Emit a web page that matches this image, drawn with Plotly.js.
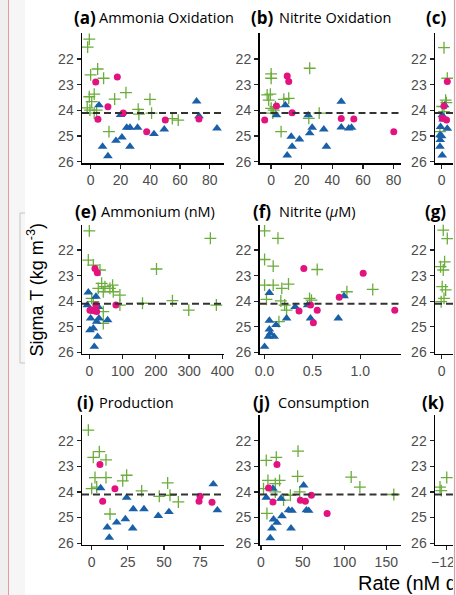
<!DOCTYPE html>
<html><head><meta charset="utf-8">
<script src="https://cdn.plot.ly/plotly-3.0.1.min.js"></script>
<style>
html,body{margin:0;padding:0;width:456px;height:595px;overflow:hidden;background:#efefef;}
#frame{position:absolute;left:8px;top:0;width:447px;height:595px;background:#f6f6f6;border-left:1.5px solid #e49aa0;border-right:1.5px solid #e49aa0;box-sizing:border-box;}
#white{position:absolute;left:25px;top:0;width:428px;height:595px;background:#fff;}
#clip{position:absolute;left:0;top:0;width:453px;height:595px;overflow:hidden;}
#plot{position:absolute;left:0;top:0;width:580px;height:595px;}
</style></head>
<body>
<div id="frame"></div><div id="white"></div>
<div id="clip"><div id="plot"></div></div>
<script>
// ---------- data ----------
const sigmaTicks = [22, 23, 24, 25, 26];
const refSigma = 24.1;

// (a) Ammonia Oxidation
const aGreenX = [-0.9, -2.0, 0, 4.7, 8.7, -0.9, 2.4, 0.7, -2.3, -0.5, 4.0, 2.4, 16.1, 23.7, 12.3, 31.9, 32.4, 39.8, 40.9, 54.8, 58.8];
const aGreenY = [21.23, 21.54, 22.62, 22.39, 22.75, 23.47, 23.37, 23.66, 23.9, 23.99, 23.99, 24.11, 23.56, 23.31, 24.83, 23.96, 24.15, 23.57, 24.11, 24.32, 24.38];
const aPinkX = [3.4, 17.9, 4.9, 11.6, 21.9, 37.6, 50.1, 72.7];
const aPinkY = [22.9, 22.7, 24.35, 23.86, 24.1, 24.83, 24.38, 24.34];
const aBlueX = [5.6, 20.1, 24.2, 26.4, 31.5, 8.0, 11.6, 17, 21, 26.4, 42.5, 49.4, 71.1, 72.7, 84.8];
const aBlueY = [23.8, 24.18, 24.67, 24.67, 24.67, 25.41, 25.78, 25.18, 25.05, 25.41, 24.92, 24.74, 23.65, 24.22, 24.7];
const aTicks = [0, 20, 40, 60, 80];

// (b) Nitrite Oxidation
const bGreenX = [0, 0, 25.2, -2.6, -0.5, -1.6, 0, 1.7, 2.8, 8.3, 11.5, 6.5, 24.6, 31.4, 1.1];
const bGreenY = [22.58, 22.75, 22.36, 23.4, 23.37, 23.6, 23.92, 23.99, 23.86, 23.57, 23.53, 24.83, 24.31, 24.11, 24.11];
const bPinkX = [10.5, 11.5, -4.2, 3.5, 13.7, 45.8, 54.0, 80.1];
const bPinkY = [22.66, 22.88, 24.38, 23.83, 24.09, 24.32, 24.34, 24.83];
const bBlueX = [3.5, 9.3, 24.2, 26.8, 25.2, 13.1, 13.7, 10.5, 18.5, 34.4, 36.1, 45.8, 45.8, 50.7, 52.5];
const bBlueY = [24.19, 23.8, 24.19, 24.67, 24.89, 25.02, 25.41, 25.75, 25.13, 24.74, 25.41, 23.66, 24.66, 24.7, 24.67];
const bTicks = [0, 20, 40, 60, 80];

// (c)
const cGreenX = [1.6, 3.8, 2.7, 0.4, -1.1, 1.6, 3.2];
const cGreenY = [21.56, 22.75, 23.6, 23.85, 24.83, 24.05, 23.7];
const cPinkX = [3.8, 1.6, 0.4, 3.3];
const cPinkY = [22.88, 23.83, 24.31, 24.38];
const cBlueX = [0.4, 2.0, -0.7, -1.1, -0.9, -1.1, 0.4, 3.8, 1.0, 0.0];
const cBlueY = [24.19, 23.8, 24.64, 24.96, 25.15, 25.41, 25.75, 24.71, 24.35, 25.0];
const cTicks = [0];

// (e) Ammonium (nM)
const eGreenX = [0, 364, -3, 12, 202, 32, 27, 37, 47, 62, 70, 72, 42, 92, 92, 7, 12, 42, 42, 160, 250, 299, 382, 22];
const eGreenY = [21.25, 21.54, 22.39, 22.59, 22.74, 22.78, 23.5, 23.3, 23.43, 23.5, 23.37, 23.63, 23.63, 23.76, 24.15, 23.89, 24.02, 24.41, 24.87, 24.08, 23.98, 24.35, 24.15, 24.28];
const ePinkX = [17, 24, 2, 7, 14, 22, 80, 20];
const ePinkY = [22.72, 22.89, 24.35, 24.35, 24.37, 24.4, 24.15, 24.15];
const eBlueX = [-3, -6, 20, 4, 29, 27, 2, 12, 25, 15, 55, 22];
const eBlueY = [23.65, 24.15, 23.82, 24.67, 24.67, 24.22, 25.13, 25.06, 25.39, 25.78, 24.74, 24.8];
const eTicks = [0, 100, 200, 300, 400];

// (f) Nitrite (uM)
const fGreenX = [0, 0.14, 0, 0.09, 0, 0.09, 0.18, 0.25, 0.55, 1.13, 0.86, 0.02, 0.17, 0.21, 0.23, 0.47, 0.49, 0.15];
const fGreenY = [21.25, 21.54, 22.37, 22.63, 23.37, 23.37, 23.5, 23.33, 22.76, 23.54, 23.63, 23.93, 23.99, 24.15, 24.35, 23.89, 23.96, 24.8];
const fPinkX = [0.41, 1.03, 0.78, 0.36, 0.55, 0.48, 0.51, 1.36];
const fPinkY = [22.72, 22.91, 23.85, 24.38, 24.35, 24.15, 24.84, 24.35];
const fBlueX = [0.05, 0.05, 0.05, 0.06, 0.1, 0.04, 0, 0.12, 0.23, 0.32, 0.45, 0.48, 0.77, 0.83];
const fBlueY = [23.67, 24.76, 25.1, 25.26, 25.39, 25.39, 25.78, 24.93, 24.67, 24.22, 24.15, 24.67, 24.67, 23.8];
const fTicks = [0, 0.5, 1.0];
const fTickText = ['0.0', '0.5', '1.0'];

// (g)
const gGreenX = [1.1, 3.8, -0.7, 2, 1.1, 0.4, 2.7, 1.6, -0.3];
const gGreenY = [21.22, 21.55, 22.65, 22.46, 22.78, 23.43, 23.56, 23.89, 24.02];
const gTicks = [0];

// (i) Production
const iGreenX = [-2.3, 1.1, 5.3, 9.9, 2.3, 9.9, 0, 3.5, 21.5, 24.2, 12.7, 34.6, 46.8, 52.6, 54.2, 60];
const iGreenY = [21.59, 22.65, 22.43, 22.75, 23.44, 23.44, 23.87, 23.81, 23.57, 23.35, 24.86, 23.96, 24.17, 23.65, 24.13, 24.39];
const iPinkX = [5.7, 16.1, 7.6, 75, 74.3, 83.3];
const iPinkY = [22.93, 23.88, 24.36, 24.17, 24.36, 24.4];
const iBlueX = [6.2, 24.2, 28.8, 36.2, 10.8, 12.2, 17.3, 23.3, 28.4, 46.1, 53.5, 84.2, 87];
const iBlueY = [23.85, 24.22, 24.67, 24.67, 25.38, 25.78, 25.19, 25.06, 25.42, 24.93, 24.78, 23.7, 24.71];
const iTicks = [0, 25, 50, 75];

// (j) Consumption
const jGreenX = [6.4, 18.4, 44.4, 8.4, 17.2, 22.3, 43.9, 108, 118.4, 159, 3.1, 7.2, 27.1, 35.2, 46.4, 17.2];
const jGreenY = [22.77, 22.65, 22.41, 23.55, 23.68, 23.55, 23.39, 23.42, 23.81, 24.1, 23.87, 24.84, 24.32, 24.13, 24.0, 24.0];
const jPinkX = [19.2, 9.1, 14.4, 47.2, 53.2, 60.4, 79.2];
const jPinkY = [22.93, 23.85, 24.39, 24.32, 24.36, 24.13, 24.84];
const jBlueX = [6.4, 14.4, 24, 15.1, 19.2, 13.2, 11.2, 25.2, 33.1, 37.2, 36, 51.1, 54.4, 57.1];
const jBlueY = [24.22, 23.87, 24.26, 25.07, 25.2, 25.42, 25.8, 24.94, 24.71, 24.73, 25.42, 23.74, 24.71, 24.73];
const jTicks = [0, 50, 100, 150];

// (k)
const kGreenX = [-128.6, -120, -127];
const kGreenY = [23.81, 23.44, 23.95];
const kTicks = [-120];

// ---------- layout ----------
const W = 580, H = 595;
const px = v => v / W;
const py = v => 1 - v / H;
const GREEN = '#6aad3b', PINK = '#e2137f', BLUE = '#1a60a8';
const TICKFONT = {family: 'Liberation Sans, Arial, sans-serif', size: 14, color: '#4d4d4d'};
const TITLEFONT = 'Open Sans, sans-serif';

const colX = [[82, 224], [259.5, 400.5], [435, 576]];
const rowY = [[33.3, 163], [224.5, 353.6], [415, 544.5]];

const panels = [
  {lab: '(a)', name: 'Ammonia Oxidation', col: 0, row: 0, xr: [-5.8, 89.5], xt: aTicks, g: [aGreenX, aGreenY], p: [aPinkX, aPinkY], b: [aBlueX, aBlueY], lx: 72, tx: 97, ty: 17},
  {lab: '(b)', name: 'Nitrite Oxidation', col: 1, row: 0, xr: [-7.6, 84.5], xt: bTicks, g: [bGreenX, bGreenY], p: [bPinkX, bPinkY], b: [bBlueX, bBlueY], lx: 249, tx: 277, ty: 17},
  {lab: '(c)', name: '', col: 2, row: 0, xr: [-4.4, 89.6], xt: cTicks, g: [cGreenX, cGreenY], p: [cPinkX, cPinkY], b: [cBlueX, cBlueY], lx: 424, tx: 450, ty: 17},
  {lab: '(e)', name: 'Ammonium (nM)', col: 0, row: 1, xr: [-22, 405], xt: eTicks, g: [eGreenX, eGreenY], p: [ePinkX, ePinkY], b: [eBlueX, eBlueY], lx: 73, tx: 99, ty: 211.5},
  {lab: '(f)', name: 'Nitrite (<i>\u03bc</i>M)', col: 1, row: 1, xr: [-0.053, 1.42], xt: fTicks, xtt: fTickText, g: [fGreenX, fGreenY], p: [fPinkX, fPinkY], b: [fBlueX, fBlueY], lx: 251, tx: 277, ty: 211.5},
  {lab: '(g)', name: '', col: 2, row: 1, xr: [-4.4, 89.6], xt: gTicks, g: [gGreenX, gGreenY], lx: 423, tx: 450, ty: 211.5},
  {lab: '(i)', name: 'Production', col: 0, row: 2, xr: [-6.7, 91.6], xt: iTicks, g: [iGreenX, iGreenY], p: [iPinkX, iPinkY], b: [iBlueX, iBlueY], lx: 75, tx: 97, ty: 402.5},
  {lab: '(j)', name: 'Consumption', col: 1, row: 2, xr: [-1.7, 167], xt: jTicks, g: [jGreenX, jGreenY], p: [jPinkX, jPinkY], b: [jBlueX, jBlueY], lx: 251, tx: 276, ty: 402.5},
  {lab: '(k)', name: '', col: 2, row: 2, xr: [-135, 45], xt: kTicks, g: [kGreenX, kGreenY], lx: 420, tx: 450, ty: 402.5}
];

const traces = [];
const layout = {
  width: W, height: H, autosize: false,
  margin: {l: 0, r: 0, t: 0, b: 0, pad: 0},
  paper_bgcolor: 'rgba(0,0,0,0)', plot_bgcolor: 'rgba(0,0,0,0)',
  showlegend: false, shapes: [], annotations: []
};

panels.forEach((P, i) => {
  const s = i === 0 ? '' : String(i + 1);
  const xa = 'x' + s, ya = 'y' + s;
  if (P.g) traces.push({type: 'scatter', mode: 'markers', x: P.g[0], y: P.g[1], xaxis: xa, yaxis: ya,
    marker: {symbol: 'cross-thin', size: 8.5, color: GREEN, line: {color: GREEN, width: 1.3}}, hoverinfo: 'skip'});
  if (P.b) traces.push({type: 'scatter', mode: 'markers', x: P.b[0], y: P.b[1], xaxis: xa, yaxis: ya,
    marker: {symbol: 'triangle-up', size: 8.5, color: BLUE, line: {width: 0}}, hoverinfo: 'skip'});
  if (P.p) traces.push({type: 'scatter', mode: 'markers', x: P.p[0], y: P.p[1], xaxis: xa, yaxis: ya,
    marker: {symbol: 'circle', size: 7, color: PINK, line: {width: 0}}, hoverinfo: 'skip'});

  const cx = colX[P.col], ry = rowY[P.row];
  const common = {showline: true, linecolor: '#000', linewidth: 1.5, ticks: 'outside', ticklen: 4,
    tickwidth: 1.3, tickcolor: '#222', tickfont: TICKFONT, showgrid: false, zeroline: false, fixedrange: true};
  const xax = Object.assign({}, common, {domain: [px(cx[0]), px(cx[1])], range: P.xr, anchor: ya,
    tickmode: 'array', tickvals: P.xt});
  if (P.xtt) xax.ticktext = P.xtt;
  layout['xaxis' + s] = xax;
  layout['yaxis' + s] = Object.assign({}, common, {domain: [py(ry[1]), py(ry[0])], range: [26.05, 21.0], anchor: xa,
    tickmode: 'array', tickvals: sigmaTicks});
  layout.shapes.push({type: 'line', xref: xa + ' domain', yref: ya, x0: 0, x1: 1, y0: refSigma, y1: refSigma,
    line: {color: '#333', width: 2, dash: '7px,4px'}, layer: 'above'});
  layout.annotations.push({xref: 'paper', yref: 'paper', x: px(P.lx), y: py(P.ty), xanchor: 'left', yanchor: 'middle',
    text: '<b>' + P.lab + '</b>', showarrow: false, font: {family: TITLEFONT, size: 17, color: '#000'}});
  if (P.name) layout.annotations.push({xref: 'paper', yref: 'paper', x: px(P.tx), y: py(P.ty), xanchor: 'left', yanchor: 'middle',
    text: P.name, showarrow: false, font: {family: TITLEFONT, size: 14.5, color: '#000'}});
});

// axis titles
layout.annotations.push({xref: 'paper', yref: 'paper', x: px(35.5), y: py(290), xanchor: 'center', yanchor: 'middle',
  textangle: -90, text: 'Sigma T (kg m<sup>-3</sup>)', showarrow: false,
  font: {family: 'Liberation Sans, Arial, sans-serif', size: 18, color: '#000'}});
layout.annotations.push({xref: 'paper', yref: 'paper', x: px(356), y: py(581), xanchor: 'left', yanchor: 'middle',
  text: 'Rate (nM d<sup>-1</sup>)', showarrow: false,
  font: {family: 'Liberation Sans, Arial, sans-serif', size: 20, color: '#000'}});

// thin bracket around the y title
const br = {color: '#c4c4c4', width: 1};
layout.shapes.push({type: 'line', xref: 'paper', yref: 'paper', x0: px(20), x1: px(20), y0: py(213), y1: py(363), line: br});
layout.shapes.push({type: 'line', xref: 'paper', yref: 'paper', x0: px(20), x1: px(25), y0: py(213), y1: py(213), line: br});
layout.shapes.push({type: 'line', xref: 'paper', yref: 'paper', x0: px(20), x1: px(25), y0: py(363), y1: py(363), line: br});

Plotly.newPlot('plot', traces, layout, {staticPlot: true, displayModeBar: false});
</script>
</body></html>
